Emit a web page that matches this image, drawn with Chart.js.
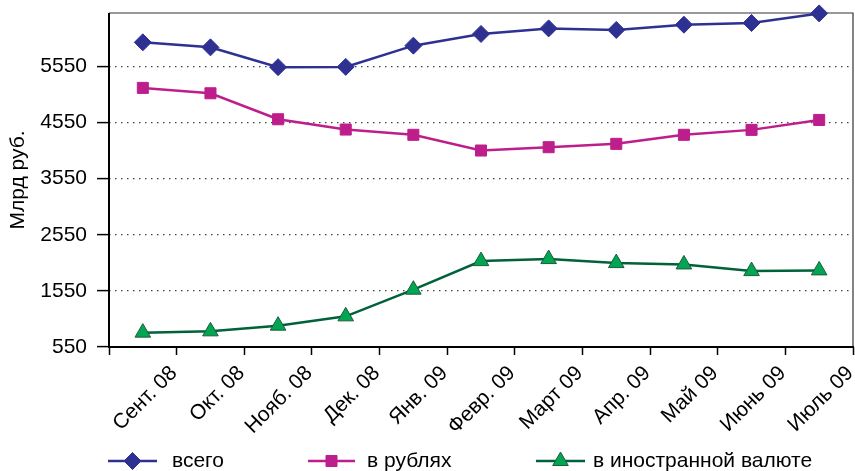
<!DOCTYPE html>
<html><head><meta charset="utf-8">
<script src="https://cdn.jsdelivr.net/npm/chart.js@4/dist/chart.umd.min.js"></script>
<style>html,body{margin:0;padding:0;background:#fff}#wrap{width:855px;height:471px}</style>
</head><body><div id="wrap"><canvas id="c" width="855" height="471"></canvas></div>
<script>
const categories = ['Сент. 08','Окт. 08','Нояб. 08','Дек. 08','Янв. 09','Февр. 09','Март 09','Апр. 09','Май 09','Июнь 09','Июль 09'];
const totalValues = [5977, 5888, 5535, 5540, 5918, 6127, 6226, 6198, 6292, 6322, 6493];
const rubValues = [5166, 5070, 4607, 4424, 4330, 4050, 4109, 4169, 4330, 4418, 4595];
const fxValues = [806, 829, 930, 1096, 1571, 2080, 2116, 2045, 2021, 1902, 1915];
const yTicks = [550, 1550, 2550, 3550, 4550, 5550];
const seriesNames = ['всего', 'в рублях', 'в иностранной валюте'];
const FONT = '"Liberation Sans", Arial, sans-serif';
const FS = 21;

function drawMarker(ctx, style, r, x, y) {
  if (style === 'rectRot') {
    ctx.moveTo(x, y - r); ctx.lineTo(x + r, y); ctx.lineTo(x, y + r); ctx.lineTo(x - r, y); ctx.closePath();
  } else if (style === 'rect') {
    const s = r * Math.SQRT1_2; ctx.rect(x - s, y - s, 2 * s, 2 * s);
  } else {
    ctx.moveTo(x, y - r); ctx.lineTo(x + r * 0.866, y + r / 2); ctx.lineTo(x - r * 0.866, y + r / 2); ctx.closePath();
  }
}

const borderPlugin = {
  id: 'borderPlugin',
  beforeDatasetsDraw(chart) {
    const {ctx, chartArea: a} = chart;
    ctx.save();
    ctx.strokeStyle = '#333';
    ctx.lineWidth = 1.2;
    ctx.beginPath();
    ctx.moveTo(a.left, a.top); ctx.lineTo(a.right, a.top); ctx.lineTo(a.right, a.bottom);
    ctx.stroke();
    ctx.strokeStyle = '#000';
    ctx.lineWidth = 2;
    ctx.beginPath();
    ctx.moveTo(a.left, a.top); ctx.lineTo(a.left, a.bottom); ctx.lineTo(a.right + 1, a.bottom);
    ctx.stroke();
    ctx.restore();
  },
  afterDraw(chart) {
    const ctx = chart.ctx;
    const pos = [[108, 157, 172], [308, 355, 367], [536, 585, 593]];
    const y = 461;
    ctx.save();
    chart.data.datasets.forEach((ds, i) => {
      const [x0, x1, tx] = pos[i];
      ctx.strokeStyle = ds.borderColor;
      ctx.lineWidth = 2.5;
      ctx.beginPath(); ctx.moveTo(x0, y); ctx.lineTo(x1, y); ctx.stroke();
      ctx.fillStyle = ds.pointBackgroundColor;
      ctx.strokeStyle = ds.pointBorderColor;
      ctx.lineWidth = 1;
      ctx.beginPath();
      drawMarker(ctx, ds.pointStyle, ds.pointRadius, (x0 + x1) / 2, y);
      ctx.fill(); ctx.stroke();
      ctx.fillStyle = '#000';
      ctx.font = FS + 'px ' + FONT;
      ctx.textBaseline = 'middle';
      ctx.textAlign = 'left';
      ctx.fillText(ds.label, tx, y);
    });
    ctx.restore();
  }
};

new Chart(document.getElementById('c'), {
  type: 'line',
  data: {
    labels: categories,
    datasets: [
      {label: seriesNames[0], data: totalValues, borderColor: '#2E3192', backgroundColor: '#2E3192',
       pointStyle: 'rectRot', pointRadius: 8.5, pointBackgroundColor: '#2E3192', pointBorderColor: '#2E3192', pointBorderWidth: 1, borderWidth: 2.5, clip: false},
      {label: seriesNames[1], data: rubValues, borderColor: '#BE1E8C', backgroundColor: '#BE1E8C',
       pointStyle: 'rect', pointRadius: 7.8, pointBackgroundColor: '#BE1E8C', pointBorderColor: '#BE1E8C', pointBorderWidth: 1, borderWidth: 2.5, clip: false},
      {label: seriesNames[2], data: fxValues, borderColor: '#00623A', backgroundColor: '#00A651',
       pointStyle: 'triangle', pointRadius: 9, pointBackgroundColor: '#00A651', pointBorderColor: '#1E5A3C', pointBorderWidth: 1, borderWidth: 2.5, clip: false}
    ]
  },
  options: {
    responsive: false,
    animation: false,
    events: [],
    layout: {autoPadding: false, padding: {top: 13, right: 2, bottom: 34, left: 0}},
    plugins: {legend: {display: false}, tooltip: {enabled: false}},
    scales: {
      x: {
        type: 'category',
        offset: true,
        border: {display: false},
        grid: {drawOnChartArea: false, drawTicks: true, tickLength: 8, tickColor: '#000', tickWidth: 1.5, offset: true},
        ticks: {autoSkip: false, maxRotation: 45, minRotation: 45, labelOffset: 31, padding: 6,
                color: '#000', font: {family: FONT, size: FS}},
        afterFit(s) { s.height = 90; s.paddingLeft = 0; s.paddingRight = 0; }
      },
      y: {
        min: 550, max: 6500,
        border: {display: false, dash: [1.5, 4.5]},
        afterBuildTicks(s) { s.ticks = yTicks.map(v => ({value: v})); },
        grid: {color: '#444', lineWidth: 1.2, drawTicks: true, tickLength: 12,
               tickColor: '#000', tickWidth: 1.5, tickBorderDash: []},
        ticks: {padding: 10, color: '#000', font: {family: FONT, size: FS}, callback: v => String(v)},
        title: {display: true, text: 'Млрд руб.', color: '#000', font: {family: FONT, size: FS}, padding: {top: 6, bottom: 0}},
        afterFit(s) { s.width = 109; s.paddingTop = 0; s.paddingBottom = 0; }
      }
    }
  },
  plugins: [borderPlugin]
});
</script>
</body></html>
